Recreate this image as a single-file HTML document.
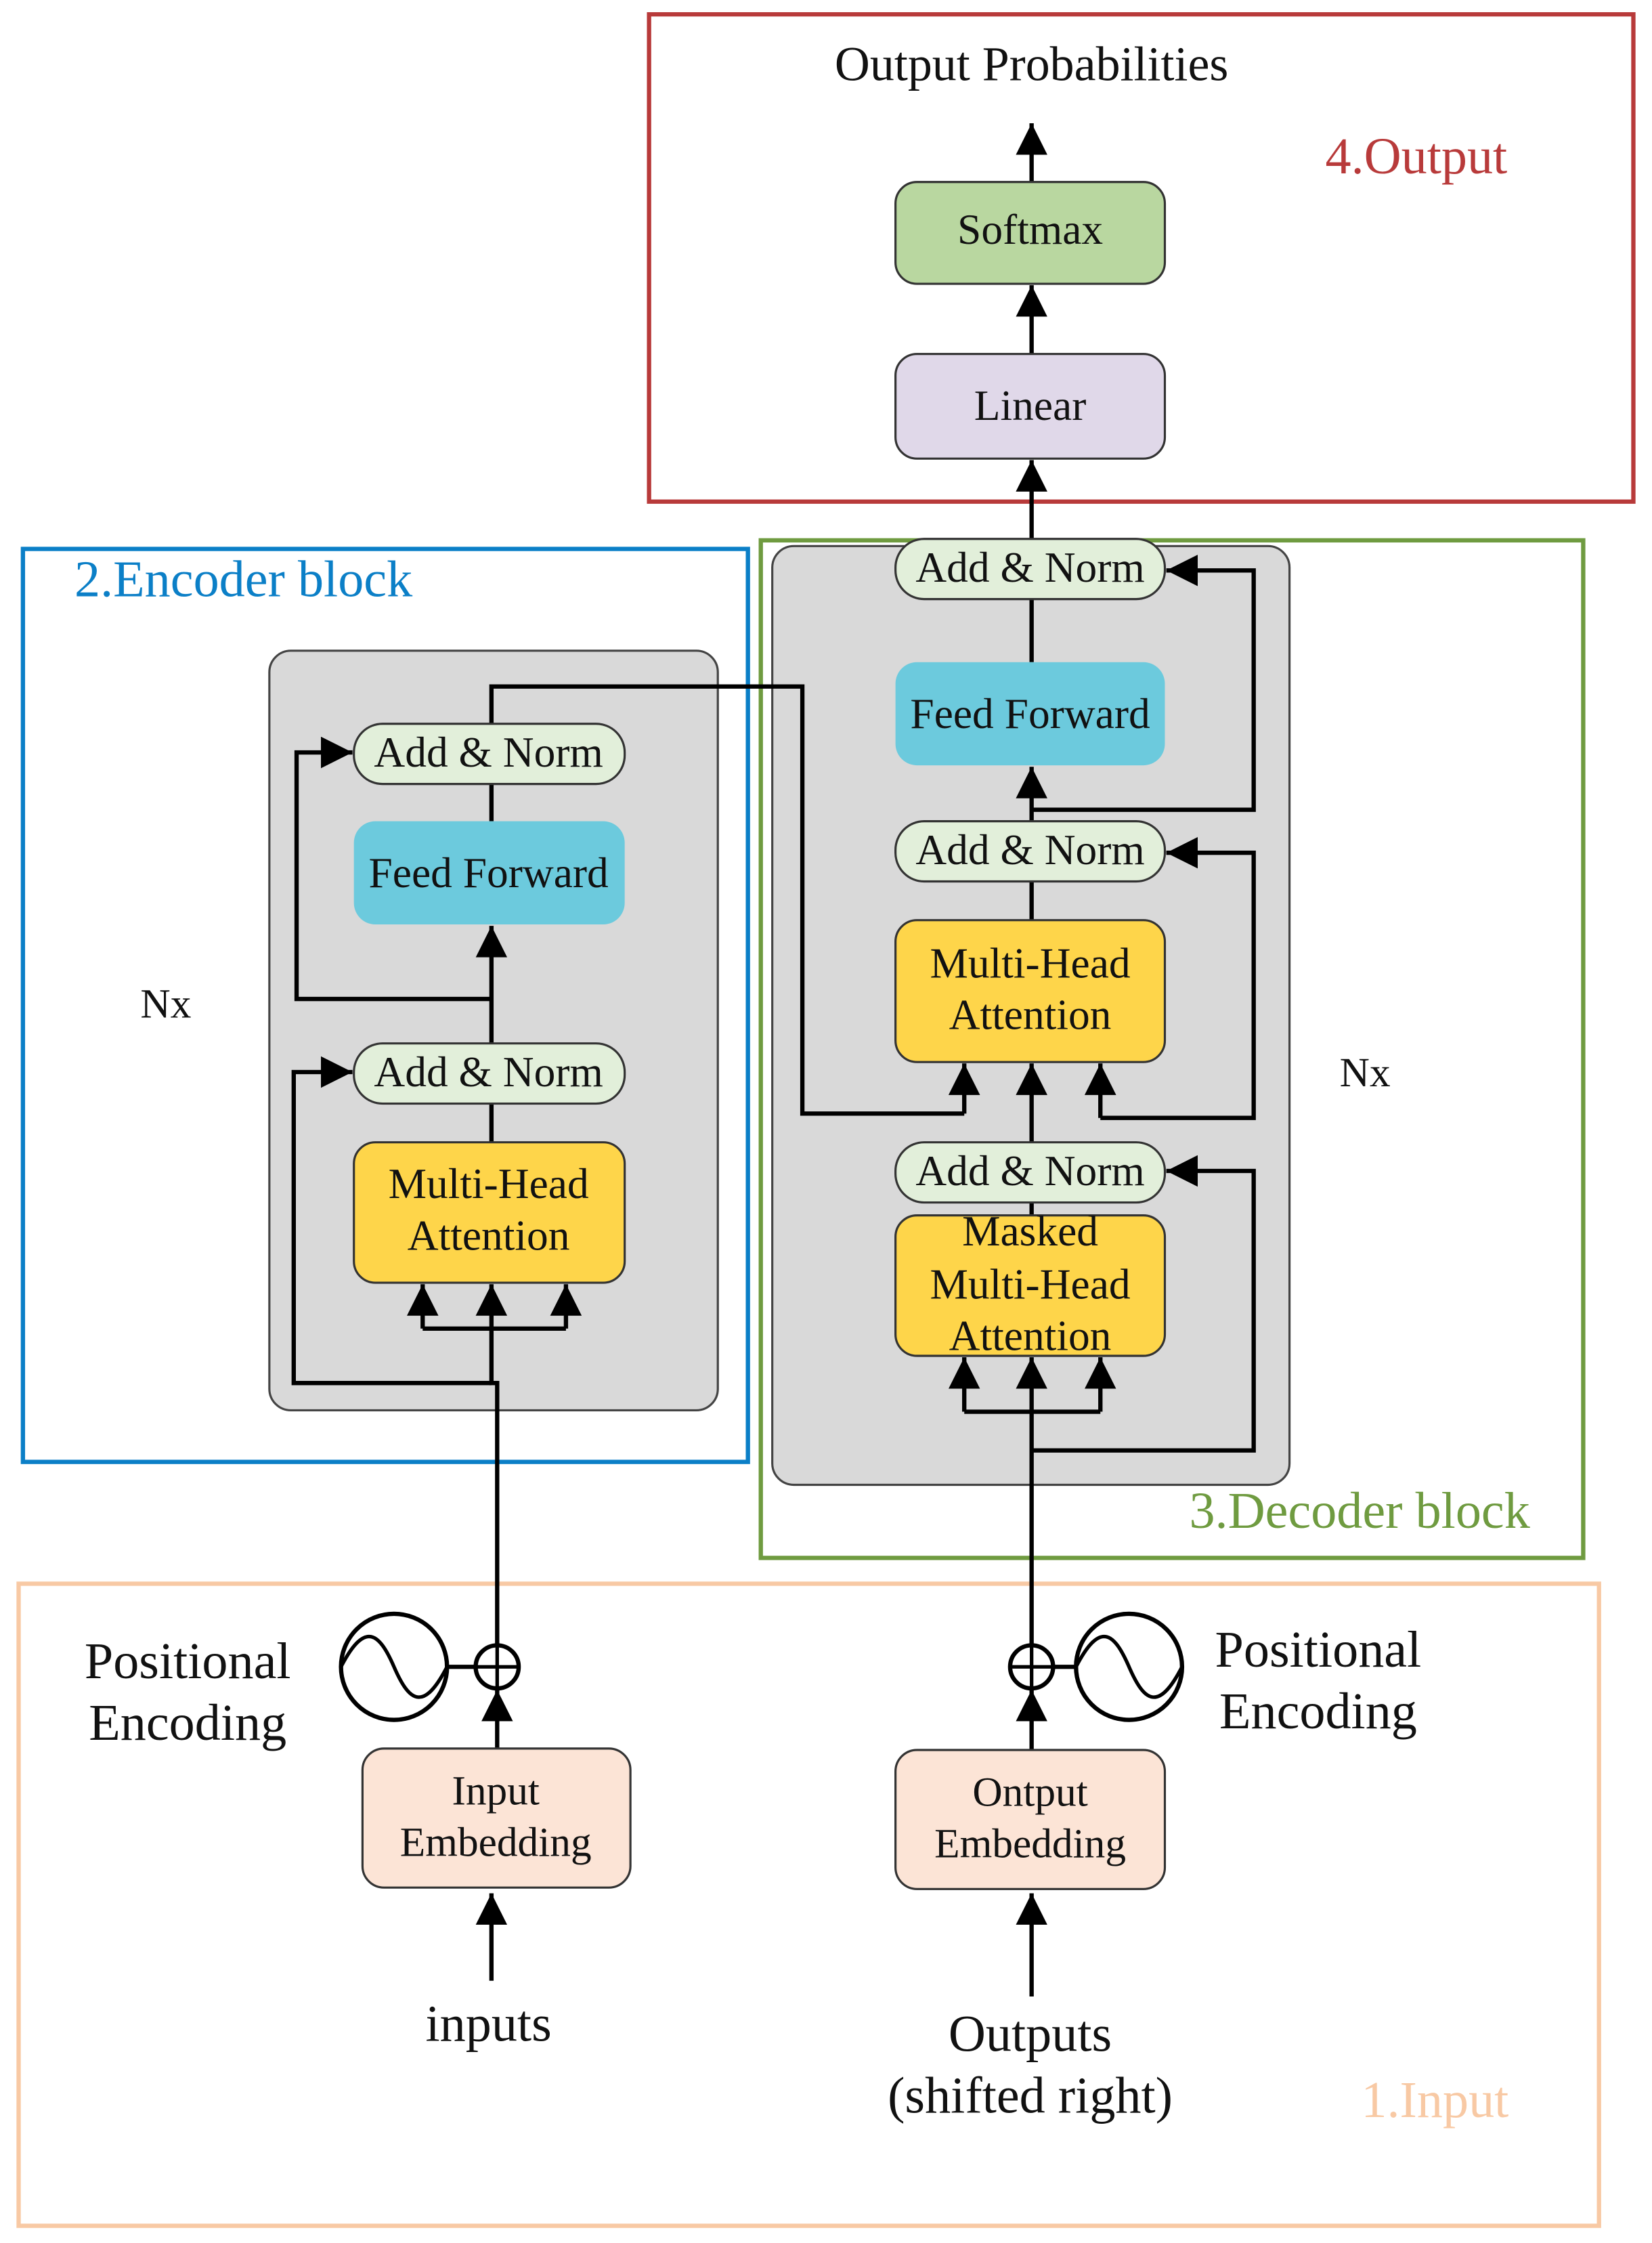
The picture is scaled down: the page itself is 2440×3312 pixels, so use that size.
<!DOCTYPE html>
<html><head><meta charset="utf-8"><style>
html,body{margin:0;padding:0;background:#fff;}
svg{display:block;}
text{font-family:"Liberation Serif",serif;fill:#111;}
</style></head><body>
<svg width="2440" height="3312" viewBox="0 0 1153 1565" preserveAspectRatio="none" xmlns="http://www.w3.org/2000/svg">
<defs>
<marker id="a" viewBox="0 0 10 10" refX="10" refY="5" markerWidth="22" markerHeight="22" markerUnits="userSpaceOnUse" orient="auto">
<path d="M0,0 L10,5 L0,10 z" fill="#000"/></marker>
</defs>

<rect x="453" y="10" width="687" height="340" fill="none" stroke="#b83a3a" stroke-width="3"/>
<rect x="16" y="383" width="506" height="637" fill="none" stroke="#0b7fc7" stroke-width="3"/>
<rect x="531" y="377" width="574" height="710" fill="none" stroke="#6f9b40" stroke-width="3"/>
<rect x="13" y="1105" width="1103" height="448" fill="none" stroke="#f8c9a4" stroke-width="3"/>

<text x="720" y="56" font-size="34" text-anchor="middle">Output Probabilities</text>
<text x="925" y="121" font-size="36" style="fill:#b83a3a">4.Output</text>
<text x="52" y="416" font-size="36" style="fill:#0b7fc7">2.Encoder block</text>
<text x="830" y="1066" font-size="36" style="fill:#6f9b40">3.Decoder block</text>
<text x="950" y="1477" font-size="36" style="fill:#f8c9a4">1.Input</text>
<text x="98" y="710" font-size="29">Nx</text>
<text x="935" y="758" font-size="29">Nx</text>

<rect x="188" y="454" width="313" height="530" rx="15" fill="#d9d9d9" stroke="#444" stroke-width="1.5"/>
<rect x="539" y="381" width="361" height="655" rx="15" fill="#d9d9d9" stroke="#444" stroke-width="1.5"/>

<g stroke="#000" stroke-width="3" fill="none">
<line x1="720" y1="127" x2="720" y2="86" marker-end="url(#a)"/>
<line x1="720" y1="247" x2="720" y2="199" marker-end="url(#a)"/>
<line x1="720" y1="376" x2="720" y2="321" marker-end="url(#a)"/>
<polyline points="347,1148 347,965 343,965 343,896" marker-end="url(#a)"/>
<polyline points="295,927 295,896" marker-end="url(#a)"/>
<polyline points="395,927 395,896" marker-end="url(#a)"/>
<line x1="295" y1="927" x2="395" y2="927"/>
<polyline points="343,965 205,965 205,748 246,748" marker-end="url(#a)"/>
<line x1="343" y1="770" x2="343" y2="797"/>
<polyline points="343,728 343,646" marker-end="url(#a)"/>
<polyline points="343,697 207,697 207,525 246,525" marker-end="url(#a)"/>
<line x1="343" y1="573" x2="343" y2="547"/>
<polyline points="343,505 343,479 560,479 560,777 673,777"/>
<polyline points="673,777 673,742" marker-end="url(#a)"/>
<polyline points="720,1148 720,947" marker-end="url(#a)"/>
<polyline points="673,985 673,947" marker-end="url(#a)"/>
<polyline points="768,985 768,947" marker-end="url(#a)"/>
<line x1="673" y1="985" x2="768" y2="985"/>
<polyline points="720,1012 875,1012 875,817 814,817" marker-end="url(#a)"/>
<line x1="720" y1="839" x2="720" y2="848"/>
<polyline points="720,797 720,742" marker-end="url(#a)"/>
<polyline points="768,780 768,742" marker-end="url(#a)"/>
<polyline points="768,780 875,780 875,595 814,595" marker-end="url(#a)"/>
<line x1="720" y1="615" x2="720" y2="642"/>
<polyline points="720,573 720,535" marker-end="url(#a)"/>
<polyline points="720,565 875,565 875,398 814,398" marker-end="url(#a)"/>
<line x1="720" y1="462" x2="720" y2="418"/>
<polyline points="347,1220 347,1179" marker-end="url(#a)"/>
<polyline points="720,1221 720,1179" marker-end="url(#a)"/>
<polyline points="343,1382 343,1321" marker-end="url(#a)"/>
<polyline points="720,1393 720,1321" marker-end="url(#a)"/>
<line x1="312" y1="1163" x2="332" y2="1163"/>
<line x1="735" y1="1163" x2="751" y2="1163"/>
</g>

<g stroke="#333" stroke-width="1.5">
<rect x="625" y="127" width="188" height="71" rx="15" fill="#b9d7a0"/>
<rect x="625" y="247" width="188" height="73" rx="15" fill="#e0d8e9"/>
<rect x="247" y="505" width="189" height="42" rx="20" fill="#e2efda"/>
<rect x="247" y="728" width="189" height="42" rx="20" fill="#e2efda"/>
<rect x="247" y="797" width="189" height="98" rx="15" fill="#fed54a"/>
<rect x="625" y="376" width="188" height="42" rx="20" fill="#e2efda"/>
<rect x="625" y="573" width="188" height="42" rx="20" fill="#e2efda"/>
<rect x="625" y="642" width="188" height="99" rx="15" fill="#fed54a"/>
<rect x="625" y="797" width="188" height="42" rx="20" fill="#e2efda"/>
<rect x="625" y="848" width="188" height="98" rx="15" fill="#fed54a"/>
<rect x="253" y="1220" width="187" height="97" rx="15" fill="#fce4d6"/>
<rect x="625" y="1221" width="188" height="97" rx="15" fill="#fce4d6"/>
</g>
<rect x="247" y="573" width="189" height="72" rx="15" fill="#6ccadd"/>
<rect x="625" y="462" width="188" height="72" rx="15" fill="#6ccadd"/>

<g stroke="#000" stroke-width="3" fill="#fff">
<circle cx="347" cy="1163" r="15"/>
<circle cx="275" cy="1163" r="37"/>
<circle cx="720" cy="1163" r="15"/>
<circle cx="788" cy="1163" r="37"/>
</g>
<g stroke="#000" stroke-width="2.5" fill="none">
<line x1="332" y1="1163" x2="362" y2="1163"/><line x1="347" y1="1148" x2="347" y2="1178"/>
<line x1="705" y1="1163" x2="735" y2="1163"/><line x1="720" y1="1148" x2="720" y2="1178"/>
<path d="M238,1163 C255,1130 265,1140 275,1163 C285,1186 295,1196 312,1163"/>
<path d="M751,1163 C768,1130 778,1140 788,1163 C798,1186 808,1196 825,1163"/>
</g>

<g font-size="30" text-anchor="middle">
<text x="341" y="535">Add &amp; Norm</text>
<text x="341" y="619">Feed Forward</text>
<text x="341" y="758">Add &amp; Norm</text>
<text x="341" y="836">Multi-Head</text>
<text x="341" y="872">Attention</text>
<text x="719" y="406">Add &amp; Norm</text>
<text x="719" y="508">Feed Forward</text>
<text x="719" y="603">Add &amp; Norm</text>
<text x="719" y="682">Multi-Head</text>
<text x="719" y="718">Attention</text>
<text x="719" y="827">Add &amp; Norm</text>
<text x="719" y="869">Masked</text>
<text x="719" y="906">Multi-Head</text>
<text x="719" y="942">Attention</text>
<text x="719" y="170">Softmax</text>
<text x="719" y="293">Linear</text>
</g>
<g font-size="29" text-anchor="middle">
<text x="346" y="1259">Input</text>
<text x="346" y="1295">Embedding</text>
<text x="719" y="1260">Ontput</text>
<text x="719" y="1296">Embedding</text>
</g>
<g font-size="36" text-anchor="middle">
<text x="131" y="1171">Positional</text>
<text x="131" y="1214">Encoding</text>
<text x="920" y="1163">Positional</text>
<text x="920" y="1206">Encoding</text>
<text x="341" y="1424">inputs</text>
<text x="719" y="1431">Outputs</text>
<text x="719" y="1474">(shifted right)</text>
</g>
</svg>
</body></html>
